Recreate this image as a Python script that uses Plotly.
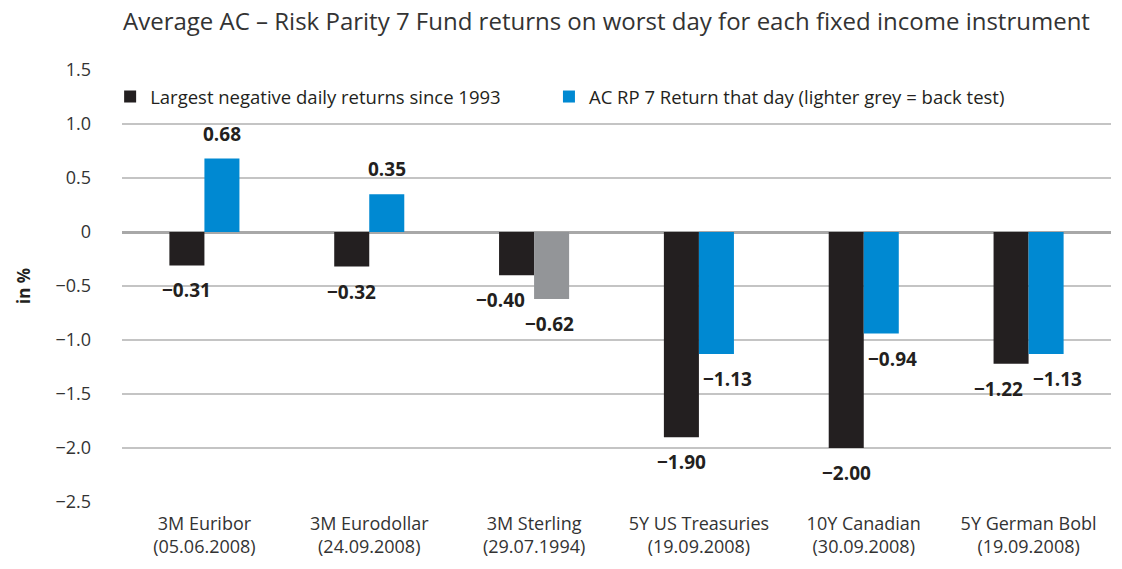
import plotly.graph_objects as go

categories = ["3M Euribor<br>(05.06.2008)", "3M Eurodollar<br>(24.09.2008)", "3M Sterling<br>(29.07.1994)",
              "5Y US Treasuries<br>(19.09.2008)", "10Y Canadian<br>(30.09.2008)", "5Y German Bobl<br>(19.09.2008)"]
worst_returns = [-0.31, -0.32, -0.40, -1.90, -2.00, -1.22]
rp7_returns = [0.68, 0.35, -0.62, -1.13, -0.94, -1.13]
rp7_backtest = [False, False, True, False, False, False]
label_worst = ["−0.31", "−0.32", "−0.40", "−1.90", "−2.00", "−1.22"]
label_rp7 = ["0.68", "0.35", "−0.62", "−1.13", "−0.94", "−1.13"]
y_ticks = [1.5, 1.0, 0.5, 0, -0.5, -1.0, -1.5, -2.0, -2.5]
y_tick_text = ["1.5", "1.0", "0.5", "0", "−0.5", "−1.0", "−1.5", "−2.0", "−2.5"]

# label x nudges (pixels) to mimic original placement
worst_shift = [0, 0, -16, 0, 0, -13]
rp7_shift = [0, 0, -2, 11, 11, 11]

BLACK = "#231f20"
BLUE = "#0089d2"
GREY = "#939598"
FONT = "Open Sans"

fig = go.Figure()
fig.add_trace(go.Bar(x=categories, y=worst_returns, name="Largest negative daily returns since 1993",
                     marker=dict(color=BLACK, line=dict(width=0)), legend="legend"))
fig.add_trace(go.Bar(x=categories, y=rp7_returns, name="AC RP 7 Return that day (lighter grey = back test)",
                     marker=dict(color=[GREY if b else BLUE for b in rp7_backtest], line=dict(width=0)),
                     legend="legend2"))

for i, c in enumerate(categories):
    for val, lab, base_shift, extra in ((worst_returns[i], label_worst[i], -17.5, worst_shift[i]),
                                         (rp7_returns[i], label_rp7[i], 17.5, rp7_shift[i])):
        fig.add_annotation(x=c, y=val, text="<b>" + lab + "</b>", showarrow=False,
                           xshift=base_shift + extra, yshift=(-25 if val < 0 else 25),
                           font=dict(family=FONT, size=19, color="#231f20"))

legend_style = dict(orientation="h", y=0.9375, xanchor="left", yanchor="middle",
                    font=dict(family=FONT, size=18.5, color="#231f20"), bgcolor="rgba(0,0,0,0)")

fig.update_layout(
    width=1122, height=569,
    margin=dict(l=122, r=11, t=70, b=67),
    plot_bgcolor="white", paper_bgcolor="white",
    barmode="group", bargap=0.575, bargroupgap=0,
    title=dict(text="Average AC – Risk Parity 7 Fund returns on worst day for each fixed income instrument",
               x=123 / 1122, xanchor="left", y=1 - 22 / 569, yanchor="middle",
               font=dict(family=FONT, size=24, color="#333333")),
    font=dict(family=FONT, color="#333333"),
    legend=dict(x=-0.012, **legend_style),
    legend2=dict(x=0.4317, **legend_style),
    yaxis=dict(range=[-2.5, 1.5], tickvals=y_ticks, ticktext=y_tick_text,
               showgrid=True, gridcolor="#c4c4c4", gridwidth=1.5,
               zeroline=True, zerolinecolor="#a8a8a8", zerolinewidth=2.5,
               tickfont=dict(family=FONT, size=18, color="#333333"), ticks="", ticklabelstandoff=30,
               title=dict(text="<b>in %</b>", font=dict(family=FONT, size=17, color="#231f20"), standoff=20)),
    xaxis=dict(showgrid=False, ticks="", ticklabelstandoff=9,
               tickfont=dict(family=FONT, size=18, color="#333333")),
    showlegend=True,
)

# remove the browser's default 8px body margin so the 1122x569 figure fills the window exactly
fig.write_html("out.html", config={"displayModeBar": False},
               post_script="document.body.style.margin='0';")
